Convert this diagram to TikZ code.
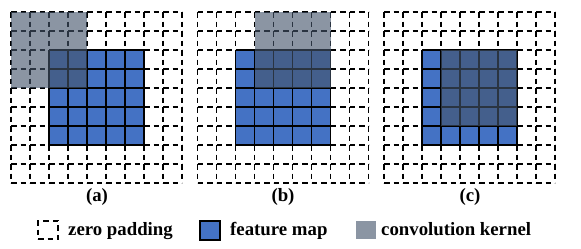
\documentclass[tikz,border=0pt]{standalone}
\usepackage{fontspec}
\setmainfont{Liberation Serif}
\definecolor{fmblue}{HTML}{4472C4}
\definecolor{kern}{HTML}{44546A}
\begin{document}
\begin{tikzpicture}[x=1pt,y=-1pt,
  pad/.style={black, line width=1.4pt, dash pattern=on 5.5pt off 4pt},
  fmline/.style={black, line width=1.3pt},
  kernfill/.style={fill=kern, fill opacity=0.62},
  lbl/.style={font=\fontsize{18.8}{21}\selectfont\bfseries, inner sep=0pt}]
\useasboundingbox (0,0) rectangle (581,249);
\foreach \ox/\kx/\ky in {11/0/0, 197.5/3/0, 384/3/2}{
  \begin{scope}[shift={(\ox,12)}]
    \foreach \i in {0,...,9}{
      \draw[pad] (\i*19,0) -- (\i*19,171);
      \draw[pad] (0,\i*19) -- (171,\i*19);
    }
    \fill[fmblue] (38,38) rectangle (133,133);
    \foreach \i in {2,...,7}{
      \draw[fmline] (\i*19,38) -- (\i*19,133);
      \draw[fmline] (38,\i*19) -- (133,\i*19);
    }
    \fill[kernfill] (\kx*19,\ky*19) rectangle ++(76,76);
  \end{scope}
}
\node[lbl] (la) at (97,196.5) {(a)};
\node[lbl] (lb) at (283,196.5) {(b)};
\node[lbl] (lc) at (470,196.5) {(c)};
\node[pad, draw, minimum width=20pt, minimum height=18pt, inner sep=0pt] (kz) at (48,230) {};
\node[fill=fmblue, draw=black, line width=1.2pt, minimum width=20pt, minimum height=19pt, inner sep=0pt] (kf) at (210,230.5) {};
\node[kernfill, minimum width=20pt, minimum height=18pt, inner sep=0pt] (kk) at (366,230) {};
\node[lbl, anchor=base west] (tz) at (68,235) {zero padding};
\node[lbl, anchor=base west] (tf) at (230,235) {feature map};
\node[lbl, anchor=base west] (tk) at (381,235) {convolution kernel};
\end{tikzpicture}
\end{document}
